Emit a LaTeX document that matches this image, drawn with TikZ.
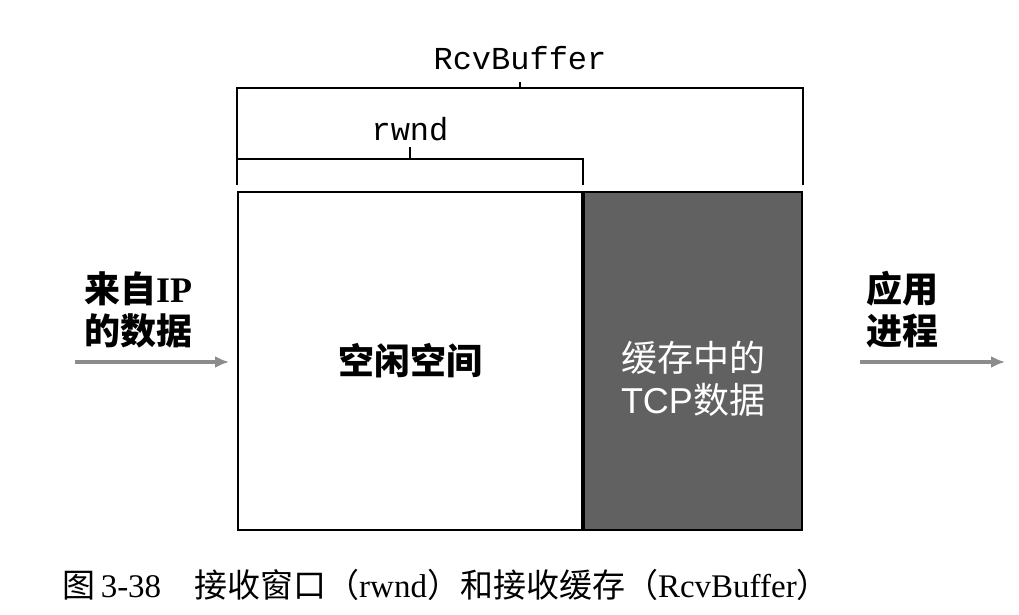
\documentclass[tikz,border=0pt]{standalone}
\usepackage{fontspec}
\setmainfont{Liberation Serif}
\setsansfont{Liberation Sans}
\setmonofont{Liberation Mono}
\newfontfamily\cjk{Noto Sans CJK SC}
\usetikzlibrary{positioning, arrows.meta, calc}

\tikzset{
  bracket/.style={draw, line width=1pt},
  flow/.style={draw=black!45, line width=1.6pt, -{Latex[length=7pt,width=6pt]}},
  label/.style={font=\cjk\bfseries\fontsize{18}{21}\selectfont, align=left, inner sep=0pt},
  brlabel/.style={font=\ttfamily\fontsize{16}{18}\selectfont, inner sep=0pt, anchor=base},
}

\begin{document}
\begin{tikzpicture}[x=0.5pt, y=-0.5pt]
        \useasboundingbox (0,0) rectangle (1019,615);

        % receive buffer
        \node[draw, line width=1pt, minimum width=172pt, minimum height=169pt, inner sep=0pt,
              font=\cjk\bfseries\fontsize{18}{21}\selectfont] (free) at (410,361) {空闲空间};
        \node[draw, line width=1pt, fill=black!62, minimum width=109pt, minimum height=169pt,
              right=0pt of free] (buf) {};
        \node[text=white, font=\cjk\fontsize{18}{21}\selectfont, align=center, inner sep=0pt]
              (buftxt) at ([yshift=-9pt]buf.center) {缓存中的\\\sffamily TCP\cjk 数据};

        % brackets
        \coordinate (rwtop) at ([yshift=16pt]free.north);
        \coordinate (rbtop) at ($(free.north west)!0.5!(buf.north east) + (0,-103)$);
        \draw[bracket] ([yshift=3pt]free.north west) |- (rwtop) -| ([yshift=3pt]free.north east);
        \draw[bracket] (rwtop) -- ++(0,-12) coordinate (rwtick);
        \draw[bracket] ([yshift=3pt]free.north west) |- (rbtop) -| ([yshift=3pt]buf.north east);
        \draw[bracket] (rbtop) -- ++(0,-6) coordinate (rbtick);
        \node[brlabel] (rwnd) at ([yshift=3pt]rwtick) {rwnd};
        \node[brlabel] (rcv) at ([yshift=6pt]rbtick) {RcvBuffer};

        % side labels
        \node[label] (inlab) at (138,310) {来自\rmfamily IP\\\cjk 的数据};
        \node[label] (outlab) at (902,310) {应用\\进程};

        \coordinate (inA) at (75,362);
        \draw[flow, shorten >=4pt] (inA) -- (free.west |- inA);
        \coordinate (outA) at (860,362);
        \coordinate (outB) at (1005,362);
        \draw[flow] (outA) -- (outB);

        % caption
        \node[font=\fontsize{16.5}{20}\selectfont, inner sep=0pt] (cap) at (446,585)
              {\cjk 图\,\rmfamily 3-38\quad\cjk 接收窗口（\rmfamily rwnd\cjk ）和接收缓存（\rmfamily RcvBuffer\cjk ）};
\end{tikzpicture}
\end{document}
